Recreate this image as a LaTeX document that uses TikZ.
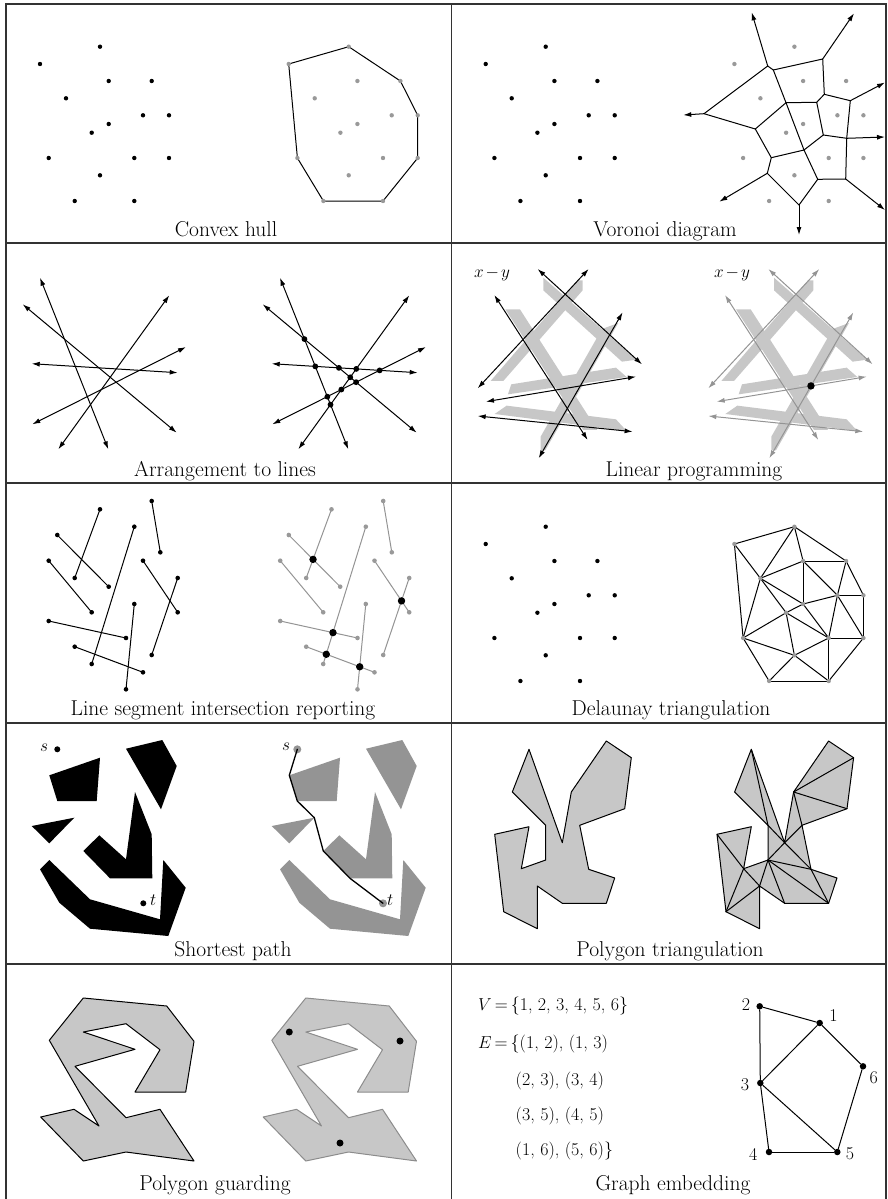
\documentclass[tikz,border=0pt]{standalone}
\usepackage{amsmath}
\usepackage{xcolor}
\usepackage{tikz}
\usetikzlibrary{arrows.meta, positioning, calc}

% the fifteen sites shared by hull, Voronoi and Delaunay panels (y runs down)
\newcommand{\sitelist}{100/46.7, 40/64, 108.7/81, 151.7/81, 66/98.3,
  143/115.3, 169/115.3, 108.7/124, 91.7/132.7, 48.7/158, 134.3/158,
  169/158, 100/175.3, 74.7/201, 134.3/201}

\begin{document}
\begin{tikzpicture}[
    x=1pt, y=-1pt,
    frame/.style={draw=black!80, line width=1.2pt},
    captext/.style={font=\fontsize{21.5}{25}\selectfont, anchor=base},
    lbl/.style={font=\fontsize{18}{22}\selectfont, inner sep=1pt},
    bdot/.style={fill=black},
    gdot/.style={fill=black!40},
    edge/.style={draw=black, line width=1pt, line cap=round, line join=round},
    gedge/.style={draw=black!42, line width=1pt, line cap=round},
    ray/.style={edge, -{Latex[length=8pt, width=5pt]}},
    dline/.style={edge, {Latex[length=8pt, width=5pt]}-{Latex[length=8pt, width=5pt]}},
    gline/.style={gedge, {Latex[length=8pt, width=5pt]}-{Latex[length=8pt, width=5pt]}},
    band/.style={fill=black!22},
    shade/.style={fill=black!22, draw=black, line width=1pt, line join=round},
    gnode/.style={circle, fill=black, inner sep=0pt, minimum size=6.5pt}
  ]
  \useasboundingbox (0,0) rectangle (887,1199);

  % convex hull
  \foreach \x/\y [count=\i] in \sitelist {
    \fill[bdot] (\x,\y) circle[radius=2.2pt];
    \coordinate (h\i) at (\x+248.7,\y);
  }
  \draw[edge] (h2) -- (h1) -- (h4) -- (h7) -- (h12) -- (h15) -- (h14) -- (h10) -- cycle;
  \foreach \i in {1,...,15} \fill[gdot] (h\i) circle[radius=2.2pt];

  % voronoi diagram
  \foreach \x/\y in \sitelist {
    \fill[bdot] (\x+445.7,\y) circle[radius=2.2pt];
    \fill[gdot] (\x+694.4,\y) circle[radius=2.2pt];
  }
  \foreach \x/\y [count=\i] in {767.7/66, 773.3/70, 822.7/59, 704/113.7,
      786/102.7, 816.7/102.3, 824.3/94.3, 850.3/100.7, 755.3/129, 823.3/135,
      846.7/138.3, 804/150, 771.3/157.7, 767.3/173.3, 817.7/179.3, 845.7/179, 799/205}
    \coordinate (w\i) at (\x,\y);
  \foreach \a/\b in {1/2, 2/3, 1/4, 3/7, 7/8, 7/6, 5/6, 2/5, 5/9, 4/9, 6/10,
      10/11, 8/11, 5/12, 12/15, 9/13, 13/12, 12/10, 13/14, 14/17, 17/15, 15/16, 16/11}
    \draw[edge] (w\a) -- (w\b);
  \foreach \a/\x/\y in {1/751.7/12.3, 3/854/13.3, 4/683.3/115, 8/885/82.5,
      11/885/137, 14/719.3/201.7, 16/885/210, 17/799/235} {
    \coordinate (e\a) at (\x,\y);
    \draw[ray] (w\a) -- (e\a);
  }

  % arrangement of lines
  \foreach \i/\ax/\ay/\bx/\by in {1/40/277.7/108.3/449.3, 2/22.7/304.3/176.7/432.7,
      3/31.7/363.7/177.7/372.7, 4/169.3/295.3/58.3/449.3, 5/186/347/32.3/424.3} {
    \coordinate (la\i) at (\ax,\ay);
    \coordinate (lb\i) at (\bx,\by);
    \coordinate (ra\i) at (\ax+240,\ay);
    \coordinate (rb\i) at (\bx+240,\by);
    \draw[dline] (la\i) -- (lb\i);
    \draw[dline] (ra\i) -- (rb\i);
  }
  \foreach \i/\j in {1/2, 1/3, 1/4, 1/5, 2/3, 2/4, 2/5, 3/4, 3/5, 4/5}
    \fill (intersection cs: first line={(ra\i)--(rb\i)}, second line={(ra\j)--(rb\j)})
      circle[radius=2.9pt];

  % linear programming (bands and lines drawn in a 1:3 frame)
  \foreach \ox/\tag in {469.3/p, 700/q} {
    \begin{scope}[shift={(\ox,255)}, scale=0.3333]
      \fill[band] (324,76) -- (340,76) -- (340,106) -- (102,378) -- (64,378) -- cycle;
      \fill[band] (222,68) -- (502,314) -- (458,320) -- (222,106) -- cycle;
      \fill[band] (108,163) -- (152,163) -- (384,525) -- (342,525) -- cycle;
      \fill[band] (398,222) -- (447,204) -- (228,586) -- (214,586) -- (214,545) -- cycle;
      \fill[band] (126,388) -- (440,338) -- (472,366) -- (116,418) -- cycle;
      \fill[band] (112,452) -- (440,493) -- (472,528) -- (76,477) -- cycle;
      \foreach \i/\ax/\ay/\bx/\by in {1/205/42/518/328, 2/358/42/25/400,
          3/75/120/355/555, 4/460/172/208/610, 5/500/365/50/440, 6/25/483/490/530} {
        \coordinate (\tag a\i) at (\ax,\ay);
        \coordinate (\tag b\i) at (\bx,\by);
      }
    \end{scope}
  }
  \foreach \i in {1,...,6} {
    \draw[dline] (pa\i) -- (pb\i);
    \draw[gline] (qa\i) -- (qb\i);
  }
  \fill (intersection cs: first line={(qa4)--(qb4)}, second line={(qa5)--(qb5)})
    circle[radius=3.7pt];
  \node[lbl, font=\fontsize{17}{20}\selectfont] (obj1) at (492,274) {$x\mkern2mu{-}\mkern2mu y$};
  \node[lbl, font=\fontsize{17}{20}\selectfont] (obj2) at (732,274) {$x\mkern2mu{-}\mkern2mu y$};

  % line segment intersection
  \foreach \i/\ax/\ay/\bx/\by in {1/100/509.3/74.7/578, 2/57.3/535/108.7/586.7,
      3/48.7/560.7/91.7/612.3, 4/134.3/526.7/91.7/664, 5/151.7/501/160.3/552.3,
      6/143/560.7/177.7/612.3, 7/177.7/578/151.7/655, 8/48.7/621/126/638,
      9/74.7/646.7/143/672.3, 10/134.3/604/126/689.3} {
    \coordinate (sa\i) at (\ax,\ay);
    \coordinate (sb\i) at (\bx,\by);
    \coordinate (ta\i) at (\ax+231.5,\ay);
    \coordinate (tb\i) at (\bx+231.5,\by);
    \draw[edge] (sa\i) -- (sb\i);
    \fill[bdot] (sa\i) circle[radius=2.3pt] (sb\i) circle[radius=2.3pt];
    \draw[gedge] (ta\i) -- (tb\i);
    \fill[gdot] (ta\i) circle[radius=2.3pt] (tb\i) circle[radius=2.3pt];
  }
  \foreach \i/\j in {1/2, 6/7, 4/8, 4/9, 10/9}
    \fill (intersection cs: first line={(ta\i)--(tb\i)}, second line={(ta\j)--(tb\j)})
      circle[radius=3.7pt];

  % delaunay triangulation
  \foreach \x/\y [count=\i] in \sitelist {
    \fill[bdot] (\x+445.7,\y+480) circle[radius=2.2pt];
    \coordinate (d\i) at (\x+694.4,\y+480);
  }
  \foreach \a/\b in {2/1, 2/5, 2/10, 1/5, 1/3, 1/4, 3/5, 3/4, 3/8, 3/6, 4/6, 4/7,
      6/7, 7/12, 6/12, 6/8, 6/11, 5/8, 5/9, 5/10, 8/9, 8/11, 9/10, 9/11, 9/13,
      10/13, 10/14, 13/11, 13/14, 13/15, 11/15, 11/12, 12/15, 14/15}
    \draw[edge] (d\a) -- (d\b);
  \foreach \i in {1,...,15} \fill[gdot] (d\i) circle[radius=2.2pt];

  % shortest path (obstacles black on the left, grey on the right)
  \foreach \dx/\col in {0/black, 240/black!42} {
    \begin{scope}[shift={(\dx,0)}]
      \fill[fill=\col] (49.3,775.3) -- (100,757.7) -- (96.7,801) -- (57.3,801) -- cycle;
      \fill[fill=\col] (126,748.7) -- (162.3,740) -- (176.7,766) -- (161,809.3) -- cycle;
      \fill[fill=\col] (31.7,826) -- (74.3,817.7) -- (49.3,843.3) -- cycle;
      \fill[fill=\col] (83.3,851) -- (99.3,835.3) -- (126,859.3) -- (135,792)
        -- (151.7,834.3) -- (152.3,878.3) -- (110,878.3) -- cycle;
      \fill[fill=\col] (40,869.3) -- (49.3,860) -- (90,899.3) -- (160,919.3)
        -- (163.3,860) -- (185.7,887.7) -- (168.3,936) -- (90,928.7) -- (59.3,902.7) -- cycle;
    \end{scope}
  }
  \coordinate (sL) at (57.3,749.3);
  \coordinate (tL) at (143.3,903.3);
  \coordinate (sR) at (297.3,749.3);
  \coordinate (tR) at (383,903.3);
  \fill[bdot] (sL) circle[radius=3pt] (tL) circle[radius=3pt];
  \fill[black!42] (sR) circle[radius=4pt] (tR) circle[radius=4pt];
  \node[lbl, font=\fontsize{19}{22}\selectfont, anchor=base east] at ([shift={(-8,2)}]sL) {$s$};
  \node[lbl, font=\fontsize{19}{22}\selectfont, anchor=base west] at ([shift={(5.5,2.5)}]tL) {$t$};
  \node[lbl, font=\fontsize{19}{22}\selectfont, anchor=base east] at ([shift={(-6,1)}]sR) {$s$};
  \node[lbl, font=\fontsize{19}{22}\selectfont, anchor=base west] at ([shift={(3,2.5)}]tR) {$t$};
  \coordinate (k1) at (289.3,775.3);
  \coordinate (k2) at (297.3,801);
  \coordinate (k3) at (314.3,817.7);
  \coordinate (k4) at (323.3,851);
  \coordinate (k5) at (350,878.3);
  \draw[edge, line width=1.3pt] (sR) -- (k1) -- (k2) -- (k3) -- (k4) -- (k5) -- (tR);

  % polygon triangulation
  \foreach \x/\y [count=\i] in {529/749.3, 512.3/792, 545.7/825.3, 545.7/860,
      521.3/868.7, 529/826.7, 494.7/834.3, 503.7/911.7, 537.3/928.7, 537.3/886,
      562.3/903.3, 606.3/903.3, 614.7/878, 588.7/869.3, 579.7/825.3, 624.7/808.7,
      631.3/757.7, 606.3/741, 571.3/792, 562.3/842.7} {
    \coordinate (u\i) at (\x,\y);
    \coordinate (v\i) at (\x+222.3,\y);
  }
  \draw[shade] (u1) \foreach \i in {2,...,20} {-- (u\i)} -- cycle;
  \draw[shade] (v1) \foreach \i in {2,...,20} {-- (v\i)} -- cycle;
  \foreach \a/\b in {1/3, 3/20, 20/15, 19/15, 19/16, 19/17, 20/14, 20/4, 4/14,
      4/12, 4/11, 14/12, 4/10, 5/10, 5/8, 7/5, 8/10}
    \draw[edge] (v\a) -- (v\b);

  % polygon guarding
  \foreach \x/\y [count=\i] in {83.3/998, 166.7/1006, 194/1041.3, 185.7/1092,
      135/1092, 160/1049.7, 126/1023.7, 83.3/1032, 135/1049.3, 75/1066.3,
      126/1117.7, 160/1109.3, 194/1161, 126/1152, 83.3/1161, 40.7/1117,
      74/1109.3, 99/1126, 49.3/1040.3} {
    \coordinate (g\i) at (\x,\y);
    \coordinate (gr\i) at (\x+222.5,\y);
  }
  \draw[shade] (g1) \foreach \i in {2,...,19} {-- (g\i)} -- cycle;
  \draw[shade, draw=black!45] (gr1) \foreach \i in {2,...,19} {-- (gr\i)} -- cycle;
  \fill[bdot] (289.3,1032) circle[radius=3.5pt] (400,1041) circle[radius=3.5pt]
    (340,1143) circle[radius=3.5pt];

  % graph embedding
  \node[lbl, anchor=base west] (vset) at (477,1010) {$V$\,=\,\{1, 2, 3, 4, 5, 6\}};
  \node[lbl, anchor=base west] (eset) at (477,1048.5) {$E$\,=\,\{(1, 2), (1, 3)};
  \node[lbl, anchor=base west] (erow1) at (514.5,1085) {(2, 3), (3, 4)};
  \node[lbl, anchor=base west] (erow2) at (514.5,1120) {(3, 5), (4, 5)};
  \node[lbl, anchor=base west] (erow3) at (514.5,1155) {(1, 6), (5, 6)\}};

  \node[gnode] (n1) at (819.7,1023) {};
  \node[gnode] (n2) at (759.7,1006.3) {};
  \node[gnode] (n3) at (760.3,1083) {};
  \node[gnode] (n4) at (769,1152) {};
  \node[gnode] (n5) at (837.3,1152) {};
  \node[gnode] (n6) at (863,1066.3) {};
  \draw[edge] (n1) -- (n2);
  \draw[edge] (n1) -- (n3);
  \draw[edge] (n2) -- (n3);
  \draw[edge] (n3) -- (n4);
  \draw[edge] (n3) -- (n5);
  \draw[edge] (n4) -- (n5);
  \draw[edge] (n1) -- (n6);
  \draw[edge] (n5) -- (n6);
  \node[lbl, right=5pt of n1, yshift=7pt] {1};
  \node[lbl, left=5pt of n2, yshift=2pt] {2};
  \node[lbl, left=6.5pt of n3, yshift=-2pt] {3};
  \node[lbl, left=7pt of n4, yshift=-2pt] {4};
  \node[lbl, right=4pt of n5, yshift=-2pt] {5};
  \node[lbl, right=2pt of n6, yshift=-11.5pt] {6};

  % table rules
  \draw[frame] (6,1199) -- (6,4) -- (886,4) -- (886,1199);
  \draw[frame] (451.5,4) -- (451.5,1199);
  \foreach \y in {243,483,723,964} \draw[frame] (6,\y) -- (886,\y);

  % captions
  \node[captext] at (226,236) {Convex hull};
  \node[captext] at (665,236) {Voronoi diagram};
  \node[captext] at (225,476) {Arrangement to lines};
  \node[captext] at (694,476) {Linear programming};
  \node[captext] at (223,715.5) {Line segment intersection reporting};
  \node[captext] at (671,715.5) {Delaunay triangulation};
  \node[captext] at (233,956) {Shortest path};
  \node[captext] at (670,956) {Polygon triangulation};
  \node[captext] at (215,1190) {Polygon guarding};
  \node[captext] at (673,1190) {Graph embedding};
\end{tikzpicture}
\end{document}
